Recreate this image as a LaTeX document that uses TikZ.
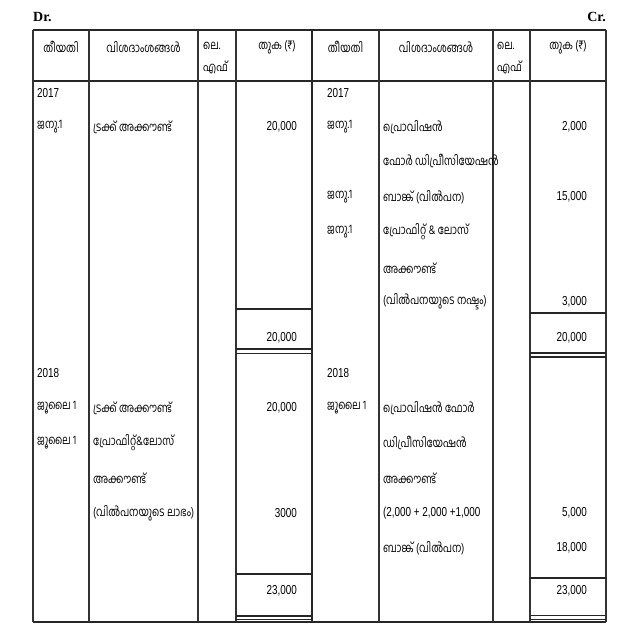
\documentclass[tikz,border=0pt]{standalone}
\usepackage{fontspec}
\newfontfamily\mlf[Script=Malayalam,FakeStretch=0.78]{Hind Kochi}
\newfontfamily\numf[FakeStretch=0.76]{Liberation Sans}
\newfontfamily\drf{Liberation Serif}
\begin{document}
\begin{tikzpicture}[x=1pt,y=-1pt,
  ml/.style={inner sep=0pt,anchor=west,font=\mlf\fontsize{12.5}{14}\selectfont},
  mlc/.style={inner sep=0pt,anchor=center,font=\mlf\fontsize{12.5}{14}\selectfont},
  nm/.style={inner sep=0pt,anchor=east,font=\numf\fontsize{13}{15}\selectfont},
  nl/.style={inner sep=0pt,anchor=west,font=\numf\fontsize{13}{15}\selectfont},
  dc/.style={inner sep=0pt,font=\drf\bfseries\fontsize{14}{16}\selectfont},
  rule/.style={line width=1.3pt,black!85},
  thin/.style={line width=1.1pt,black!80}]
\useasboundingbox (0,0) rectangle (640,640);
\fill[white] (0,0) rectangle (640,640);
% frame
\draw[rule] (33,30) -- (606,30);
\draw[rule] (33,81) -- (606,81);
\draw[rule] (33,622) -- (606,622);
\foreach \x in {33,89,198,236,379,493,530,606} \draw[thin] (\x,30) -- (\x,622);
\draw[line width=2pt,black!85] (312,30) -- (312,622);
% left amount boxes
\draw[rule] (236,309) -- (312,309);
\draw[rule] (236,349) -- (312,349);
\draw[line width=1.8pt,black!85] (236,353.5) -- (312,353.5);
\draw[rule] (236,574) -- (312,574);
\draw[rule] (236,616) -- (312,616);
\draw[line width=1.8pt,black!85] (236,619.5) -- (312,619.5);
% right amount boxes
\draw[rule] (530,313) -- (606,313);
\draw[rule] (530,353) -- (606,353);
\draw[line width=1.8pt,black!85] (530,357) -- (606,357);
\draw[rule] (530,578) -- (606,578);
\draw[rule] (530,615.5) -- (606,615.5);
\draw[line width=1.8pt,black!85] (530,619.5) -- (606,619.5);
% Dr Cr
\node[dc,anchor=west] (dr) at (33,17) {Dr.};
\node[dc,anchor=east] (cr) at (606,17) {Cr.};
% headers
\node[mlc] (h1) at (61,47) {തീയതി};
\node[mlc] (h2) at (143.5,47) {വിശദാംശങ്ങൾ};
\node[ml] (h3a) at (203,46) {ലെ.};
\node[ml] (h3b) at (203,67) {എഫ്};
\node[mlc] (h4) at (277,47) {തുക (₹)};
\node[mlc] (h5) at (345.5,47) {തീയതി};
\node[mlc] (h6) at (436,47) {വിശദാംശങ്ങൾ};
\node[ml] (h7a) at (497,46) {ലെ.};
\node[ml] (h7b) at (497,67) {എഫ്};
\node[mlc] (h8) at (568,47) {തുക (₹)};
% left body
\node[nl] (l1) at (37,93) {2017};
\node[ml] (l2) at (37,127) {ജനു.1};
\node[ml] (l3) at (93,127) {ട്രക്ക് അക്കൗണ്ട്};
\node[nm] (l4) at (297,127) {20,000};
\node[nm] (l5) at (297,338) {20,000};
\node[nl] (l6) at (37,373) {2018};
\node[ml] (l7) at (37,408) {ജൂലൈ 1};
\node[ml] (l8) at (93,408) {ട്രക്ക് അക്കൗണ്ട്};
\node[nm] (l9) at (297,408) {20,000};
\node[ml] (l10) at (37,443) {ജൂലൈ 1};
\node[ml] (l11) at (93,443) {പ്രോഫിറ്റ്\&ലോസ്};
\node[ml] (l12) at (93,478) {അക്കൗണ്ട്};
\node[ml] (l13) at (93,513) {(വിൽപനയുടെ ലാഭം)};
\node[nm] (l14) at (297,513) {3000};
\node[nm] (l15) at (297,591) {23,000};
% right body
\node[nl] (r1) at (327,93) {2017};
\node[ml] (r2) at (327,127) {ജനു.1};
\node[ml] (r3) at (383,127) {പ്രൊവിഷൻ};
\node[nm] (r4) at (587,127) {2,000};
\node[ml] (r5) at (383,161) {ഫോർ ഡിപ്രീസിയേഷൻ};
\node[ml] (r6) at (327,197) {ജനു.1};
\node[ml] (r7) at (383,197) {ബാങ്ക് (വിൽപന)};
\node[nm] (r8) at (587,197) {15,000};
\node[ml] (r9) at (327,232) {ജനു.1};
\node[ml] (r10) at (383,232) {പ്രോഫിറ്റ് \& ലോസ്};
\node[ml] (r11) at (383,268) {അക്കൗണ്ട്};
\node[ml] (r12) at (383,302) {(വിൽപനയുടെ നഷ്ടം)};
\node[nm] (r13) at (587,302) {3,000};
\node[nm] (r14) at (587,338) {20,000};
\node[nl] (r15) at (327,373) {2018};
\node[ml] (r16) at (327,408) {ജൂലൈ 1};
\node[ml] (r17) at (383,408) {പ്രൊവിഷൻ ഫോർ};
\node[ml] (r18) at (383,443) {ഡിപ്രീസിയേഷൻ};
\node[ml] (r19) at (383,478) {അക്കൗണ്ട്};
\node[nl] (r20) at (383,513) {(2,000 + 2,000 +1,000};
\node[nm] (r21) at (587,513) {5,000};
\node[ml] (r22) at (383,548) {ബാങ്ക് (വിൽപന)};
\node[nm] (r23) at (587,548) {18,000};
\node[nm] (r24) at (587,591) {23,000};
\end{tikzpicture}
\end{document}
